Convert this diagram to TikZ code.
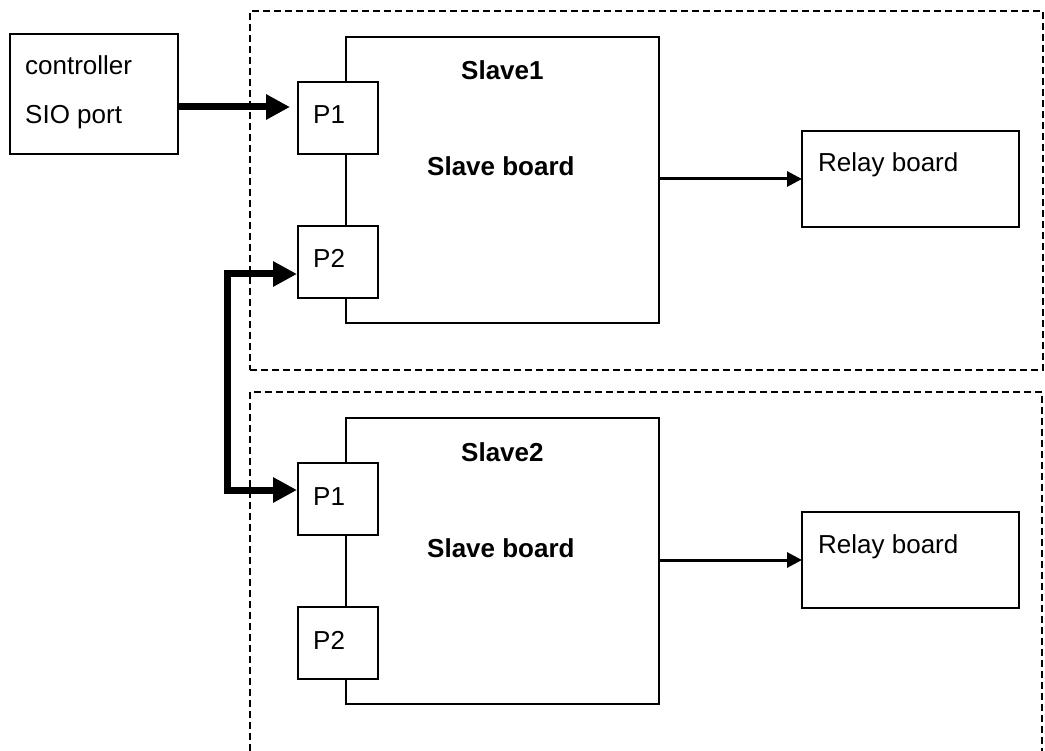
\documentclass[tikz,border=0pt]{standalone}
\usepackage{fontspec}
\setmainfont{Liberation Sans}
\usetikzlibrary{arrows.meta,calc}
\begin{document}
\begin{tikzpicture}[x=1pt,y=-1pt,
  box/.style={draw, line width=1.5pt, fill=white, inner sep=0pt, outer sep=0pt},
  grp/.style={draw, line width=1.5pt, dash pattern=on 7pt off 4pt},
  lbl/.style={anchor=base west, inner sep=0pt, font=\fontsize{26}{30}\selectfont},
  blbl/.style={lbl, font=\fontsize{26}{30}\selectfont\bfseries},
  thin arrow/.style={line width=3pt, -{Triangle[length=15pt,width=15pt]}},
  bus/.style={line width=7pt, line join=miter},
  bustip/.tip={Triangle[length=24pt,width=24pt]}]
\useasboundingbox (0,0) rectangle (1045,751);
\fill[white] (0,0) rectangle (1045,751);

% group outlines
\node[grp, inner sep=0pt, outer sep=0pt, minimum width=793pt, minimum height=359pt] (grp1) at (646.5,190.5) {};
\coordinate (g2a) at (250,751);
\coordinate (g2b) at (250,392);
\coordinate (g2c) at (1042,392);
\coordinate (g2d) at (1042,751);
\draw[grp] (g2a) -- (g2b) -- (g2c) -- (g2d);

% controller
\node[box, minimum width=168pt, minimum height=120pt] (ctrl) at (94,94) {};
\node[lbl] (ctrlt1) at (25,75) {controller};
\node[lbl] (ctrlt2) at (25,124) {SIO port};

% slave 1
\node[box, minimum width=313pt, minimum height=286pt] (s1) at (502.5,180) {};
\node[box, minimum width=80pt, minimum height=72pt] (p1a) at (338,118) {};
\node[box, minimum width=80pt, minimum height=72pt] (p2a) at (338,262) {};
\node[box, minimum width=217pt, minimum height=96pt] (r1) at (910.5,179) {};
\node[blbl] (s1t) at (461,80) {Slave1};
\node[blbl] (s1b) at (427,176) {Slave board};
\node[lbl] (p1at) at (313,124) {P1};
\node[lbl] (p2at) at (313,268) {P2};
\node[lbl] (r1t) at (818,172) {Relay board};

% slave 2
\node[box, minimum width=313pt, minimum height=286pt] (s2) at (502.5,561) {};
\node[box, minimum width=80pt, minimum height=72pt] (p1b) at (338,499) {};
\node[box, minimum width=80pt, minimum height=72pt] (p2b) at (338,643) {};
\node[box, minimum width=217pt, minimum height=96pt] (r2) at (910.5,560) {};
\node[blbl] (s2t) at (461,461) {Slave2};
\node[blbl] (s2b) at (427,557) {Slave board};
\node[lbl] (p1bt) at (313,505) {P1};
\node[lbl] (p2bt) at (313,649) {P2};
\node[lbl] (r2t) at (818,553) {Relay board};

% connectors
\draw[thin arrow] (s1.east |- r1.west) -- (r1.west);
\draw[thin arrow] (s2.east |- r2.west) -- (r2.west);
\draw[bus, -{bustip}] ($(ctrl.east)+(0,13)$) -- ($(p1a.west)+(-8,-11)$);
\coordinate (bt) at (227,274);
\coordinate (bb) at (227,490);
\draw[bus, {bustip}-{bustip}] ($(p2a.west)+(-1,12)$) -- (bt) -- (bb) -- ($(p1b.west)+(-1,-9)$);
\end{tikzpicture}
\end{document}
